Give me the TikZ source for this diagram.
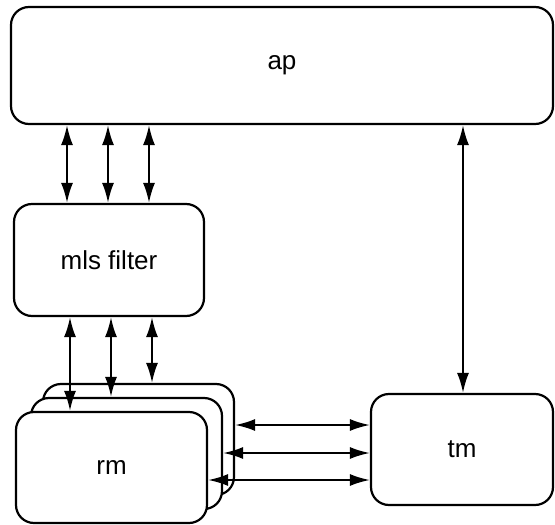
\documentclass[tikz,border=0pt]{standalone}
\usepackage{fontspec}
\setmainfont{Liberation Sans}
\usetikzlibrary{arrows.meta}
\begin{document}
\begin{tikzpicture}[x=1pt,y=-1pt,
  box/.style={draw, line width=2.2pt, rounded corners=18pt, fill=white, inner sep=0pt,
    font=\fontsize{26}{30}\selectfont},
  tip/.tip={Latex[length=20pt,width=12pt]},
  link/.style={line width=2pt, tip-tip}]
\useasboundingbox (0,0) rectangle (555,525);
\node[box, minimum width=542pt, minimum height=117pt] (ap) at (282,65.5) {ap};
\node[box, minimum width=190pt, minimum height=112pt] (mls) at (109,260) {mls filter};
\node[box, minimum width=182pt, minimum height=111pt] (tm) at (462,449.5) {tm};
\node[box, minimum width=191pt, minimum height=111pt] (rm3) at (138.5,439.5) {};
\node[box, minimum width=191pt, minimum height=111pt] (rm2) at (126.5,453.5) {};
\node[box, minimum width=191pt, minimum height=111pt] (rm1) at (111.5,467.5) {rm};
\coordinate (a1) at (67,0);
\coordinate (a2) at (108,0);
\coordinate (a3) at (149,0);
\coordinate (b1) at (70,0);
\coordinate (b2) at (111,0);
\coordinate (b3) at (152,0);
\coordinate (c0) at (463,0);
\coordinate (h1) at (0,425);
\coordinate (h2) at (0,453);
\coordinate (h3) at (0,480);
\draw[link] (ap.south -| a1) -- (mls.north -| a1);
\draw[link] (ap.south -| a2) -- (mls.north -| a2);
\draw[link] (ap.south -| a3) -- (mls.north -| a3);
\draw[link] (ap.south -| c0) -- (tm.north -| c0);
\draw[link] (mls.south -| b1) -- (rm1.north -| b1);
\draw[link] (mls.south -| b2) -- (rm2.north -| b2);
\draw[link] (mls.south -| b3) -- (rm3.north -| b3);
\draw[link] (rm3.east |- h1) -- (tm.west |- h1);
\draw[link] (rm2.east |- h2) -- (tm.west |- h2);
\draw[link] (rm1.east |- h3) -- (tm.west |- h3);
\end{tikzpicture}
\end{document}
